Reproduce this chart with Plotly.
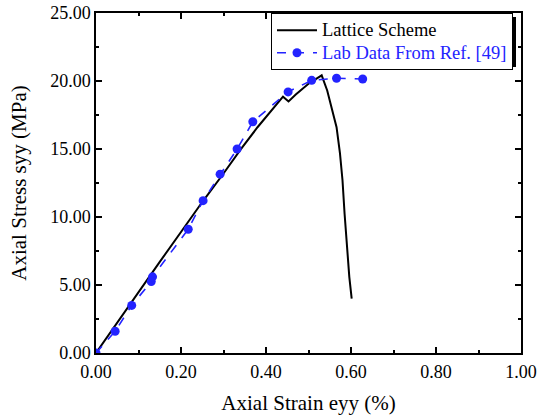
import plotly.graph_objects as go

# Lattice scheme (black line)
sim_strain = [0.0, 0.05, 0.10, 0.15, 0.20, 0.25, 0.30, 0.34, 0.38, 0.41, 0.44, 0.453, 0.47, 0.50, 0.531,
              0.544, 0.556, 0.566, 0.574, 0.580, 0.585, 0.590, 0.596, 0.6016]
sim_stress = [0.0, 2.25, 4.5, 6.7, 8.9, 11.1, 13.2, 14.95, 16.6, 17.7, 18.85, 18.5, 19.0, 19.8, 20.42,
              19.3, 17.9, 16.6, 14.7, 12.7, 10.2, 7.8, 5.6, 4.0]

# Lab data (blue dashed with markers)
lab_strain = [0.0, 0.045, 0.084, 0.13, 0.133, 0.217, 0.252, 0.292, 0.332, 0.369, 0.452, 0.5075, 0.566, 0.6275]
lab_stress = [0.0, 1.6, 3.5, 5.25, 5.6, 9.1, 11.2, 13.15, 15.0, 17.0, 19.2, 20.05, 20.2, 20.15]

x_ticks = [0.0, 0.2, 0.4, 0.6, 0.8, 1.0]
y_ticks = [0, 5, 10, 15, 20, 25]

BLUE = "#2323ff"
FONT = "Liberation Serif"

W, H = 539, 418
PL, PR, PT, PB = 96, 521, 13, 353

fig = go.Figure()
fig.add_trace(go.Scatter(x=sim_strain, y=sim_stress, mode="lines",
                         name="<span style='font-size:18.5px'>Lattice Scheme</span>",
                         line=dict(color="black", width=2)))
fig.add_trace(go.Scatter(x=lab_strain, y=lab_stress, mode="lines+markers",
                         name=f"<span style='color:{BLUE};font-size:18.5px'>Lab Data From Ref. [49]</span>",
                         line=dict(color=BLUE, width=1.6, dash="dash"),
                         marker=dict(color=BLUE, size=9)))

axis_common = dict(showline=True, linecolor="black", linewidth=1.5, mirror="ticks",
                   ticks="inside", ticklen=6, tickwidth=1.5, tickcolor="black",
                   showgrid=False, zeroline=False, tickformat=".2f", automargin=False,
                   ticklabeloverflow="allow",
                   tickfont=dict(family=FONT, size=18, color="black"))

fig.update_xaxes(range=[0, 1], tickvals=x_ticks, ticklabelstandoff=2,
                 minor=dict(dtick=0.1, ticks="inside", ticklen=3, tickwidth=1.5, tickcolor="black"),
                 title=dict(text="Axial Strain eyy (%)", font=dict(family=FONT, size=21, color="black"),
                            standoff=14),
                 **axis_common)
fig.update_yaxes(range=[0, 25], tickvals=y_ticks,
                 minor=dict(dtick=2.5, ticks="inside", ticklen=3, tickwidth=1.5, tickcolor="black"),
                 title=dict(text="Axial Stress syy (MPa)", font=dict(family=FONT, size=21, color="black"),
                            standoff=18),
                 **axis_common)

pw, ph = PR - PL, PB - PT
# legend shadow (offset 4px right/down from legend box)
fig.add_shape(type="rect", xref="paper", yref="paper",
              x0=(275 - PL) / pw, x1=(516 - PL) / pw,
              y0=(PB - 67) / ph, y1=(PB - 17) / ph,
              fillcolor="black", line=dict(width=0), layer="above")

fig.update_layout(
    width=W, height=H,
    margin=dict(l=PL, r=W - PR, t=PT, b=H - PB, autoexpand=False),
    paper_bgcolor="white", plot_bgcolor="white",
    font=dict(family=FONT, size=18, color="black"),
    showlegend=True,
    legend=dict(x=(513 - PL) / pw, xanchor="right", y=1.0, yanchor="top",
                bgcolor="white", bordercolor="black", borderwidth=1,
                font=dict(family=FONT, size=15, color="black"),
                tracegroupgap=0, itemwidth=40),
)

fig.write_html("out.html", config={"displayModeBar": False},
               post_script="document.body.style.margin='0';document.body.style.overflow='hidden';")
